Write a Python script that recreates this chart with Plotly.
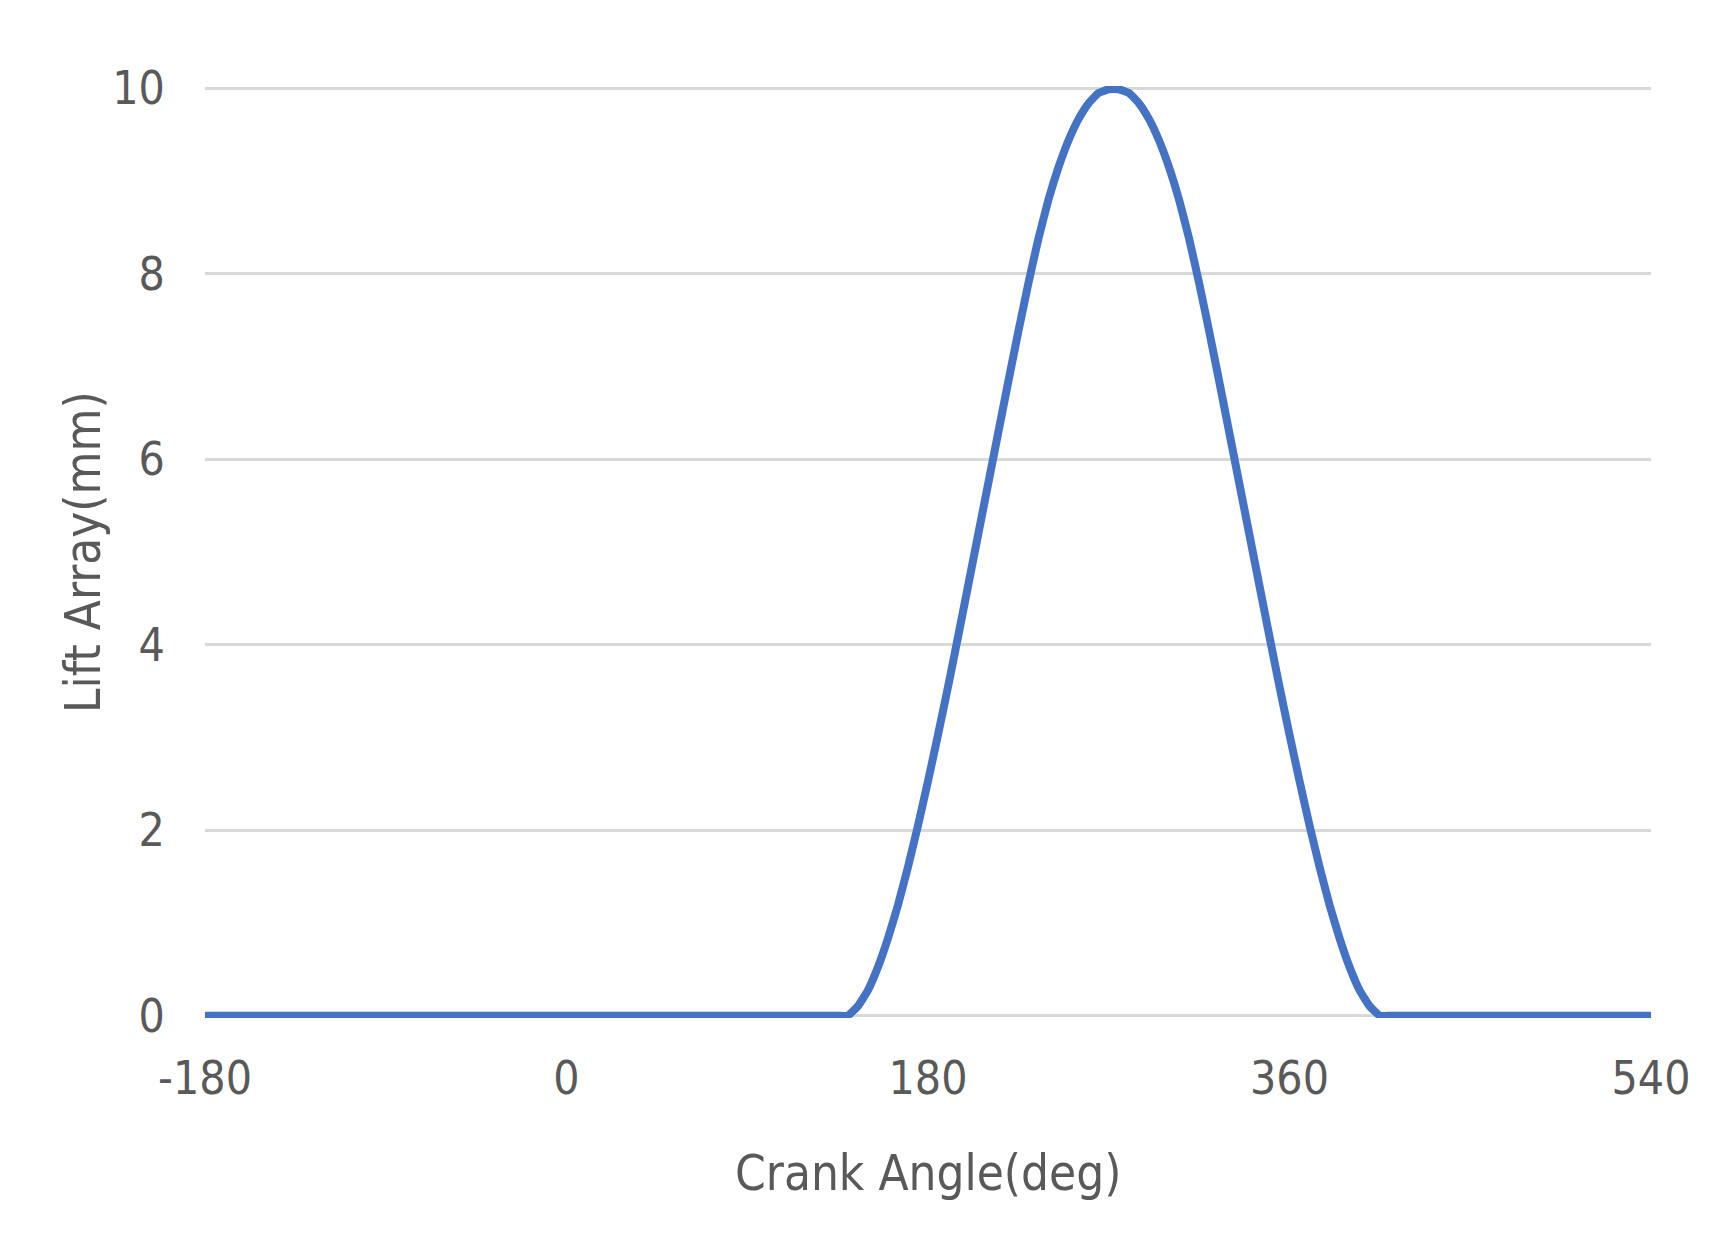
import plotly.graph_objects as go

# Crank angle (deg) and valve lift (mm)
crank_angle = [-180, -135, -90, -45, 0, 45, 90, 130, 135, 140,
               145, 150, 155, 160, 165, 170, 175, 180, 185, 190,
               195, 200, 205, 210, 215, 220, 225, 230, 235, 240,
               245, 250, 255, 260, 265, 270, 275, 280, 285, 290,
               295, 300, 305, 310, 315, 320, 325, 330, 335, 340,
               345, 350, 355, 360, 365, 370, 375, 380, 385, 390,
               395, 400, 405, 410, 415, 450, 495, 540]
lift_mm = [0, 0, 0, 0, 0, 0, 0, 0, 0, 0,
           0.10, 0.27, 0.52, 0.83, 1.19, 1.60, 2.05, 2.53, 3.03, 3.55,
           4.09, 4.64, 5.19, 5.74, 6.29, 6.84, 7.38, 7.90, 8.38, 8.80,
           9.15, 9.44, 9.67, 9.84, 9.95, 9.99, 9.99, 9.95, 9.84, 9.67,
           9.44, 9.15, 8.80, 8.38, 7.90, 7.38, 6.84, 6.29, 5.74, 5.19,
           4.64, 4.09, 3.55, 3.03, 2.53, 2.05, 1.60, 1.19, 0.83, 0.52,
           0.27, 0.10, 0, 0, 0, 0, 0, 0]

x_ticks = [-180, 0, 180, 360, 540]
y_ticks = [0, 2, 4, 6, 8, 10]
x_title = "Crank Angle(deg)"
y_title = "Lift Array(mm)"

FONT = "Liberation Sans Narrow, DejaVu Sans Condensed, Arial Narrow, sans-serif"
TXT = "#595959"

fig = go.Figure()
fig.add_trace(go.Scatter(
    x=crank_angle, y=lift_mm, mode="lines",
    line=dict(color="#4472C4", width=8, shape="spline", smoothing=0.4),
    showlegend=False, cliponaxis=False,
))

fig.update_layout(
    width=1728, height=1233,
    margin=dict(l=197, r=85, t=78, b=223),
    paper_bgcolor="white", plot_bgcolor="white",
    font=dict(family=FONT, color=TXT),
    xaxis=dict(
        range=[-180, 540], tickvals=x_ticks, ticktext=[str(v) for v in x_ticks],
        showgrid=False, zeroline=False, showline=False,
        ticks="outside", ticklen=20, tickcolor="rgba(0,0,0,0)",
        tickfont=dict(size=46, family=FONT, color=TXT),
    ),
    yaxis=dict(
        range=[-0.025, 10.025], tickvals=y_ticks, ticktext=[str(v) for v in y_ticks],
        showgrid=True, gridcolor="#D9D9D9", gridwidth=3,
        zeroline=False, showline=False,
        ticks="outside", ticklen=30, tickcolor="rgba(0,0,0,0)",
        tickfont=dict(size=46, family=FONT, color=TXT),
    ),
    annotations=[
        dict(text=x_title, xref="paper", yref="paper", x=0.5, y=-0.167,
             xanchor="center", yanchor="middle", showarrow=False,
             font=dict(size=49, family=FONT, color=TXT)),
        dict(text=y_title, xref="paper", yref="paper", x=-0.0844, y=0.5,
             xanchor="center", yanchor="middle", showarrow=False, textangle=-90,
             font=dict(size=49, family=FONT, color=TXT)),
    ],
)

fig.write_html("out.html")
